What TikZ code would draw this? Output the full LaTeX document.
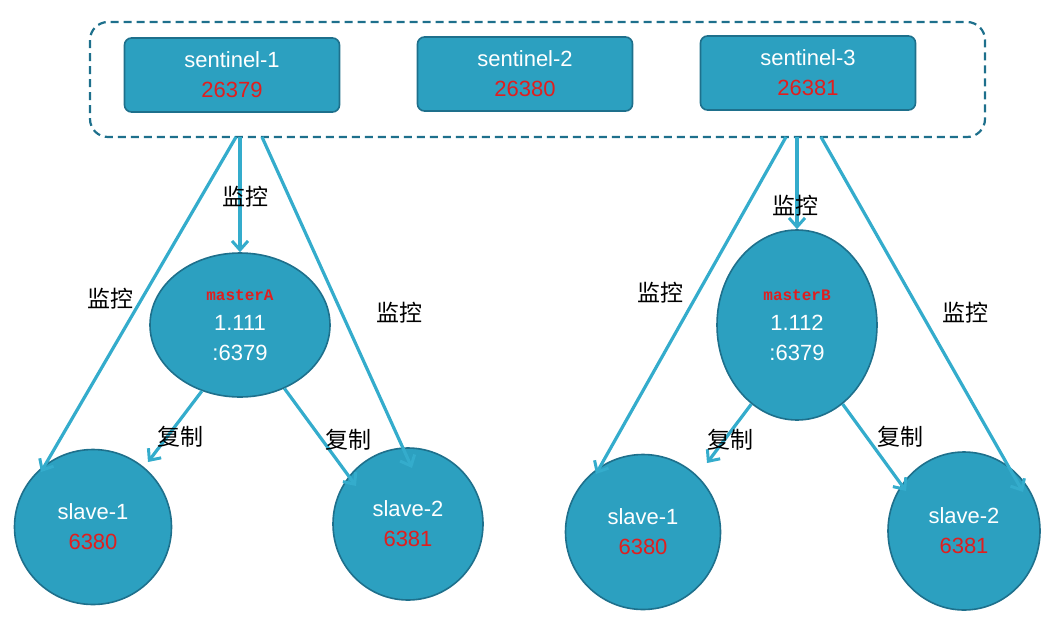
\documentclass[tikz,border=0pt]{standalone}
\usepackage{fontspec}
\setmainfont{Liberation Sans}
\newfontfamily\cjk{Noto Sans CJK SC}
\newfontfamily\monob{Liberation Mono}
\usetikzlibrary{positioning, arrows.meta, calc, shapes.geometric}
\definecolor{nodefill}{RGB}{44,160,192}
\definecolor{nodeline}{RGB}{30,112,140}
\definecolor{arrowc}{RGB}{52,172,204}
\definecolor{portred}{RGB}{225,30,30}
\tikzset{
  senbox/.style={draw=nodeline, fill=nodefill, rounded corners=7pt, line width=1.6pt,
    minimum width=215pt, minimum height=74pt, align=center, text=white, font=\fontsize{22}{30}\selectfont},
  redis/.style={draw=nodeline, fill=nodefill, ellipse, line width=1.6pt, align=center,
    text=white, font=\fontsize{22}{30}\selectfont, inner sep=0pt},
  watch/.style={draw=arrowc, line width=3.2pt, -{Straight Barb[length=9pt,width=16pt,line width=3pt]}},
  lbl/.style={font=\cjk\fontsize{23}{26}\selectfont, text=black}
}
\begin{document}
\begin{tikzpicture}[x=1pt,y=-1pt]
  \useasboundingbox (0,0) rectangle (1062,632);
  % sentinel group
  \draw[nodeline, line width=2.2pt, dashed, dash pattern=on 8pt off 5pt, rounded corners=18pt] (90,22) rectangle (985,137);
  \node[senbox] (sen1) at (232,75) {sentinel-1\\\textcolor{portred}{26379}};
  \node[senbox] (sen2) at (525,74) {sentinel-2\\\textcolor{portred}{26380}};
  \node[senbox] (sen3) at (808,73) {sentinel-3\\\textcolor{portred}{26381}};

  % masters and slaves
  \node[redis, minimum width=180pt, minimum height=144pt] (masterA) at (240,325)
    {{\monob\bfseries\fontsize{16}{18}\selectfont\textcolor{portred}{masterA}}\\1.111\\:6379};
  \node[redis, minimum width=157pt, minimum height=155pt] (slaveA1) at (93,527) {slave-1\\\textcolor{portred}{6380}};
  \node[redis, minimum width=150pt, minimum height=152pt] (slaveA2) at (408,524) {slave-2\\\textcolor{portred}{6381}};
  \node[redis, minimum width=160pt, minimum height=190pt] (masterB) at (797,325)
    {{\monob\bfseries\fontsize{16}{18}\selectfont\textcolor{portred}{masterB}}\\1.112\\:6379};
  \node[redis, minimum width=155pt, minimum height=155pt] (slaveB1) at (643,532) {slave-1\\\textcolor{portred}{6380}};
  \node[redis, minimum width=152pt, minimum height=158pt] (slaveB2) at (964,531) {slave-2\\\textcolor{portred}{6381}};

  % monitor start points
  \coordinate (monA) at (240,137);
  \coordinate (monAl) at (236,137);
  \coordinate (monAr) at (262,137);
  \coordinate (monB) at (797,137);
  \coordinate (monBl) at (786,137);
  \coordinate (monBr) at (821,137);

  \draw[watch] (monA) -- (masterA.north);
  \draw[watch] (monAl) -- (41,472);
  \draw[watch] (monAr) -- (412,468);
  \draw[watch] (monB) -- (masterB.north);
  \draw[watch] (monBl) -- (596,474);
  \draw[watch] (monBr) -- (1023,492);

  % replication
  \draw[watch] (masterA.240) -- (148,462);
  \draw[watch] (masterA.305) -- (356,486);
  \draw[watch] (masterB.240) -- (707,463);
  \draw[watch] (masterB.300) -- (906,491);

  \node[lbl] (mA) at (245,197) {监控};
  \node[lbl] (mAl) at (110,299) {监控};
  \node[lbl] (mAr) at (399,313) {监控};
  \node[lbl] (mB) at (795,206) {监控};
  \node[lbl] (mBl) at (660,293) {监控};
  \node[lbl] (mBr) at (965,313) {监控};
  \node[lbl] (cA1) at (180,437) {复制};
  \node[lbl] (cA2) at (348,440) {复制};
  \node[lbl] (cB1) at (730,440) {复制};
  \node[lbl] (cB2) at (900,437) {复制};
\end{tikzpicture}
\end{document}
